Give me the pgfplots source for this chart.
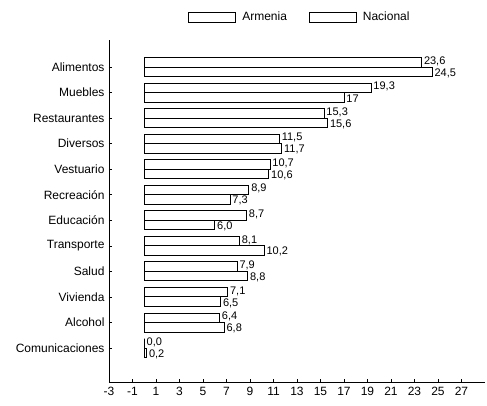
\documentclass[border=0pt]{standalone}
\usepackage{pgfplots}
\pgfplotsset{compat=1.18}
\usepackage{fontspec}
\setmainfont{Liberation Sans}

\begin{document}
\begin{tikzpicture}
\path[use as bounding box] (-109pt,-24pt) rectangle (378pt,382pt);
\begin{axis}[
  at={(0,0)}, anchor=south west,
  scale only axis,
  width=376pt, height=342pt,
  xbar,
  bar width=9.5pt,
  xmin=-3, xmax=29,
  ymin=-1.33, ymax=12.06,
  axis lines*=left,
  axis line style={line width=0.9pt},
  xtick={-3,-1,...,27},
  ytick={0,...,11},
  yticklabels={Comunicaciones,Alcohol,Vivienda,Salud,Transporte,Educación,Recreación,Vestuario,Diversos,Restaurantes,Muebles,Alimentos},
  tick align=inside,
  major tick length=3pt,
  tick style={black, line width=0.6pt},
  /pgf/number format/assume math mode=true,
  ticklabel style={font=\fontsize{12}{14}\selectfont},
  yticklabel style={font=\fontsize{12}{14}\selectfont, xshift=-1pt},
  xticklabel style={yshift=-2pt},
  point meta=explicit symbolic,
  nodes near coords,
  nodes near coords style={font=\fontsize{11}{12}\selectfont, anchor=west, inner sep=0pt, xshift=2pt},
  legend style={draw=none, fill=none, at={(0.508,1.067)}, anchor=center,
    legend columns=2, font=\fontsize{12}{14}\selectfont,
    /tikz/every odd column/.append style={column sep=4pt},
    /tikz/every even column/.append style={column sep=20pt}},
]
\addplot[draw=black, fill=white, line width=0.9pt, bar shift=4.75pt,
  nodes near coords style={yshift=1.2pt},
  legend image code/.code={\draw[black, fill=white, line width=0.9pt] (0pt,-5pt) rectangle (47pt,5pt);}]
  coordinates {
  (23.6,11) [23,6]
  (19.3,10) [19,3]
  (15.3,9) [15,3]
  (11.5,8) [11,5]
  (10.7,7) [10,7]
  (8.9,6) [8,9]
  (8.7,5) [8,7]
  (8.1,4) [8,1]
  (7.9,3) [7,9]
  (7.1,2) [7,1]
  (6.4,1) [6,4]
  (0.0,0) [0,0]
};
\addlegendentry{Armenia}
\addplot[draw=black, fill=white, line width=0.9pt, bar shift=-4.75pt,
  nodes near coords style={yshift=-1.2pt},
  legend image code/.code={\draw[black, fill=white, line width=0.9pt] (0pt,-5pt) rectangle (47pt,5pt);}]
  coordinates {
  (24.5,11) [24,5]
  (17.0,10) [17]
  (15.6,9) [15,6]
  (11.7,8) [11,7]
  (10.6,7) [10,6]
  (7.3,6) [7,3]
  (6.0,5) [6,0]
  (10.2,4) [10,2]
  (8.8,3) [8,8]
  (6.5,2) [6,5]
  (6.8,1) [6,8]
  (0.2,0) [0,2]
};
\addlegendentry{Nacional}
\end{axis}
\end{tikzpicture}
\end{document}
